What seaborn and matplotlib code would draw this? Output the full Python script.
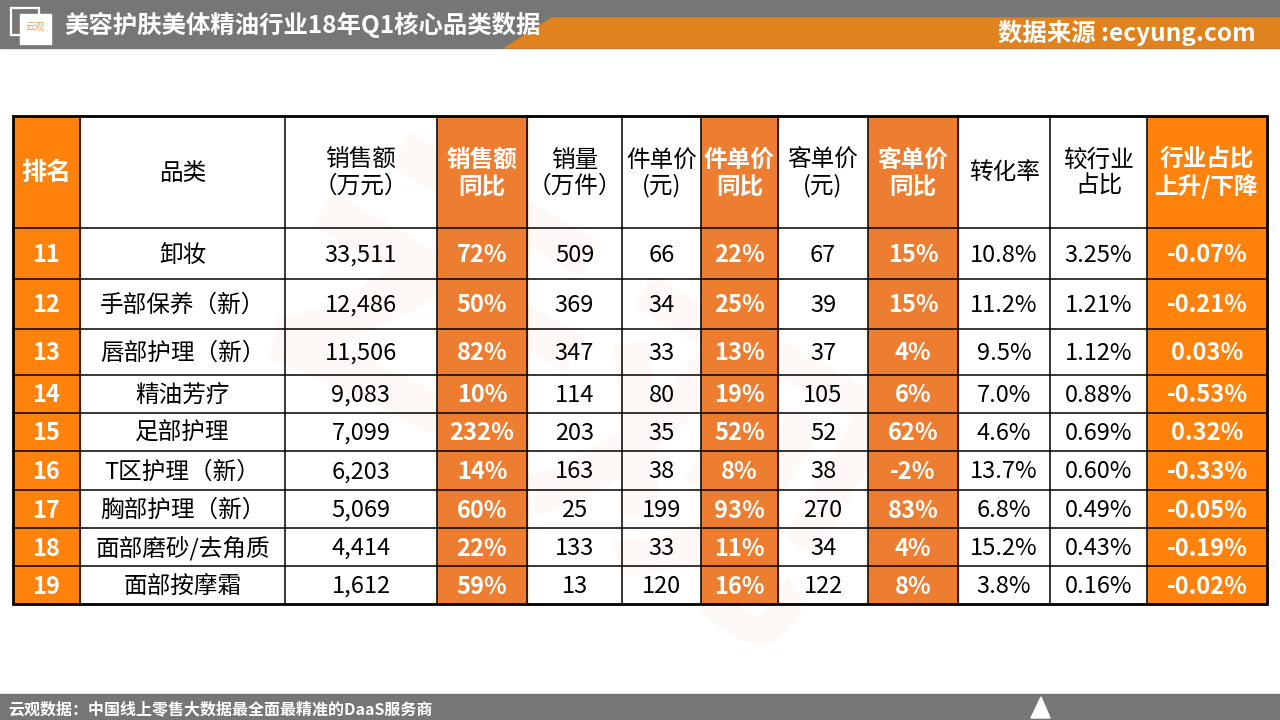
import matplotlib
matplotlib.use("Agg")
import matplotlib.pyplot as plt
from matplotlib.patches import Rectangle, Polygon
import seaborn as sns
import pandas as pd
import numpy as np

rank = [11, 12, 13, 14, 15, 16, 17, 18, 19]
categories = ["卸妆", "手部保养（新）", "唇部护理（新）", "精油芳疗", "足部护理",
              "T区护理（新）", "胸部护理（新）", "面部磨砂/去角质", "面部按摩霜"]
sales = [33511, 12486, 11506, 9083, 7099, 6203, 5069, 4414, 1612]
sales_yoy = [72, 50, 82, 10, 232, 14, 60, 22, 59]
volume = [509, 369, 347, 114, 203, 163, 25, 133, 13]
unit_price = [66, 34, 33, 80, 35, 38, 199, 33, 120]
unit_price_yoy = [22, 25, 13, 19, 52, 8, 93, 11, 16]
cust_price = [67, 39, 37, 105, 52, 38, 270, 34, 122]
cust_price_yoy = [15, 15, 4, 6, 62, -2, 83, 4, 8]
conversion = [10.8, 11.2, 9.5, 7.0, 4.6, 13.7, 6.8, 15.2, 3.8]
share = [3.25, 1.21, 1.12, 0.88, 0.69, 0.60, 0.49, 0.43, 0.16]
share_change = [-0.07, -0.21, 0.03, -0.53, 0.32, -0.33, -0.05, -0.19, -0.02]

headers = ["排名", "品类", "销售额\n（万元）", "销售额\n同比", "销量\n（万件）", "件单价\n(元)",
           "件单价\n同比", "客单价\n(元)", "客单价\n同比", "转化率", "较行业\n占比", "行业占比\n上升/下降"]

df = pd.DataFrame({
    "rank": [str(r) for r in rank],
    "cat": categories,
    "sales": [f"{v:,}" for v in sales],
    "sales_yoy": [f"{v}%" for v in sales_yoy],
    "volume": [str(v) for v in volume],
    "unit_price": [str(v) for v in unit_price],
    "unit_price_yoy": [f"{v}%" for v in unit_price_yoy],
    "cust_price": [str(v) for v in cust_price],
    "cust_price_yoy": [f"{v}%" for v in cust_price_yoy],
    "conversion": [f"{v:.1f}%" for v in conversion],
    "share": [f"{v:.2f}%" for v in share],
    "share_change": [f"{v:.2f}%" for v in share_change],
})

# ---- layout (pixels) ----
col_edges = [13, 80, 285, 437, 527, 622, 701, 778, 868, 958, 1050, 1147, 1267]
row_edges = [116, 228, 279, 329, 375, 413, 451, 490, 528, 566, 604]

BRIGHT = "#FF820C"
ORANGE = "#ED7D31"
GRAY = "#767676"
BAND = "#E0821E"
col_fill = [BRIGHT, None, None, ORANGE, None, None, ORANGE, None, ORANGE, None, None, BRIGHT]

sns.set_style("white")
plt.rcParams["font.family"] = ["Noto Sans CJK SC", "DejaVu Sans"]

fig = plt.figure(figsize=(12.8, 7.2), dpi=100)
ax = fig.add_axes([0, 0, 1, 1])
ax.set_xlim(0, 1280)
ax.set_ylim(720, 0)
ax.axis("off")

# header band
ax.add_patch(Rectangle((0, 0), 1280, 48, color=GRAY, zorder=1))
ax.add_patch(Polygon([(505, 48), (552, 18), (1280, 18), (1280, 48)], closed=True,
                     color=BAND, zorder=2))
ax.add_patch(Rectangle((11, 8), 28, 27, fill=False, ec="white", lw=1.6, zorder=3))
ax.add_patch(Rectangle((20, 14), 31, 30, color="white", zorder=3))
ax.text(35.5, 27, "云观", color="#F0A050", fontsize=7, ha="center", va="center", zorder=4)
ax.text(64, 25, "美容护肤美体精油行业18年Q1核心品类数据", color="white", fontsize=17.6,
        fontweight="bold", ha="left", va="center", zorder=4)
ax.text(1256, 33, "数据来源 :ecyung.com", color="white", fontsize=17.6,
        fontweight="bold", ha="right", va="center", zorder=4)

# footer band
ax.add_patch(Rectangle((0, 694), 1280, 26, color=GRAY, zorder=1))
ax.text(8, 709, "云观数据：中国线上零售大数据最全面最精准的DaaS服务商", color="white",
        fontsize=11.5, fontweight="bold", ha="left", va="center", zorder=4)
ax.add_patch(Polygon([(1031, 718), (1041, 697), (1050, 718)], closed=True,
                     color="white", zorder=4))

# faint watermark
ax.text(560, 410, "云观", color="#F6B27A", alpha=0.07, fontsize=230, fontweight="bold",
        rotation=-30, ha="center", va="center", zorder=1)

# cell fills
for j, fill in enumerate(col_fill):
    if fill:
        x0, x1 = col_edges[j], col_edges[j + 1]
        ax.add_patch(Rectangle((x0, row_edges[0]), x1 - x0, row_edges[-1] - row_edges[0],
                               color=fill, zorder=2))

# grid lines
for x in col_edges[1:-1]:
    ax.plot([x, x], [row_edges[0], row_edges[-1]], color="black", lw=1.1, zorder=3)
for y in row_edges[1:-1]:
    ax.plot([col_edges[0], col_edges[-1]], [y, y], color="black", lw=1.1, zorder=3)
ax.add_patch(Rectangle((col_edges[0], row_edges[0]), col_edges[-1] - col_edges[0],
                       row_edges[-1] - row_edges[0], fill=False, ec="black", lw=2, zorder=4))

# header texts
for j, h in enumerate(headers):
    cx = (col_edges[j] + col_edges[j + 1]) / 2
    cy = (row_edges[0] + row_edges[1]) / 2 + 1
    filled = col_fill[j] is not None
    ax.text(cx, cy, h, ha="center", va="center", fontsize=17 if j else 18,
            color="white" if filled else "black",
            fontweight="bold" if filled else "normal", linespacing=1.15, zorder=5)

# body texts
for i in range(len(df)):
    cy = (row_edges[i + 1] + row_edges[i + 2]) / 2 + 1.5
    for j, key in enumerate(df.columns):
        cx = (col_edges[j] + col_edges[j + 1]) / 2
        filled = col_fill[j] is not None
        ax.text(cx, cy, df.iloc[i][key], ha="center", va="center", fontsize=17,
                color="white" if filled else "black",
                fontweight="bold" if filled else "normal", zorder=5)

fig.savefig("out.png", dpi=100)
